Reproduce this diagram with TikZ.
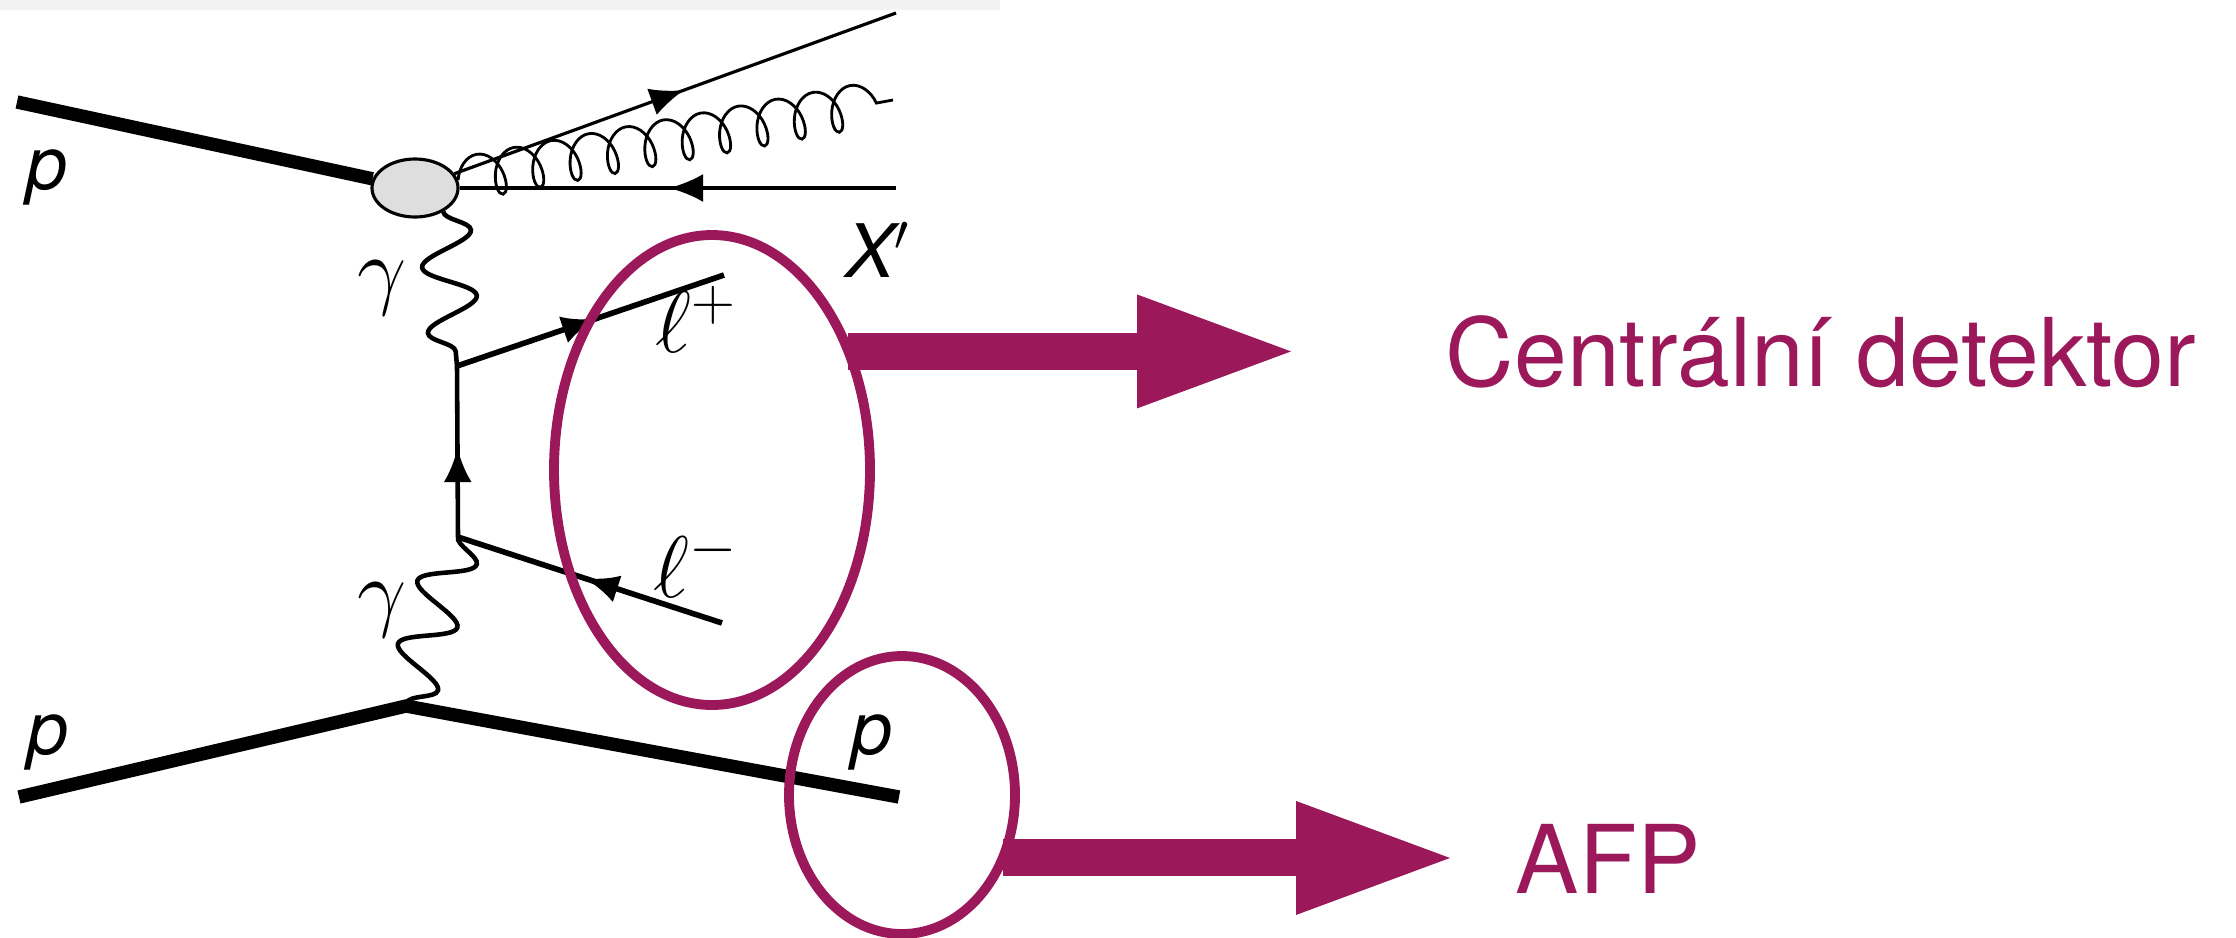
\documentclass[tikz,border=0pt]{standalone}
\usepackage{fontspec}
\setmainfont{TeX Gyre Heros}
\usepackage{xcolor}
\usetikzlibrary{shapes.geometric, arrows.meta, decorations.pathmorphing, decorations.markings}
\definecolor{detpurple}{RGB}{155,25,91}

\begin{document}
\begin{tikzpicture}[x=0.1mm, y=-0.1mm,
  proton/.style={line width=3.8pt},
  fermion/.style={line width=#1, postaction={decorate},
    decoration={markings, mark=at position 0.52 with {\arrow{Latex[length=3.4mm, width=2.8mm]}}}},
  photon/.style={line width=1.3pt, decorate, decoration={snake, amplitude=2.6mm, segment length=6.6mm}},
  gluon/.style={line width=0.8pt, decorate, decoration={coil, amplitude=2.2mm, segment length=3.8mm, aspect=0.6}},
  blob/.style={ellipse, draw, line width=0.9pt, fill=black!13, minimum width=8.6mm, minimum height=5.8mm, inner sep=0pt},
  lab/.style={inner sep=0pt, anchor=base, font=\fontsize{21}{25}\selectfont\itshape},
  ring/.style={ellipse, draw=detpurple, line width=2.8pt, inner sep=0pt, outer sep=0pt},
  bigarrow/.style={detpurple, line width=3.7mm, -{Triangle[line width=0pt, length=15.4mm, width=11.4mm]}},
  bigtext/.style={inner sep=0pt, anchor=base west, text=detpurple, font=\fontsize{27}{32}\selectfont}]
\useasboundingbox (0,0) rectangle (2236,937);
\draw[black!5, line width=1mm] (0,5) -- (1000,5);

% Vertices and outer ends
\node[blob] (blob) at (415,188) {};
\coordinate (v1) at (457,366);
\coordinate (v2) at (458,537);
\coordinate (v3) at (406,706);
\coordinate (pa) at (17,102);
\coordinate (pb) at (19,797);
\coordinate (pc) at (899,797);
\coordinate (qa) at (896,13);
\coordinate (qb) at (896,188);
\coordinate (ga) at (893,100);
\coordinate (lp) at (724,275);
\coordinate (lm) at (722,623);

% Lines
\draw[proton] (pa) -- (blob);
\draw[proton] (pb) -- (v3) -- (pc);
\draw[fermion=0.9pt] (blob) -- (qa);
\draw[fermion=0.9pt] (qb) -- (blob);
\draw[gluon] (blob) -- (ga);
\draw[photon] (blob.-40) -- (v1);
\draw[photon] (v2) -- (v3);
\draw[fermion=1.3pt] (v2) -- (v1);
\draw[fermion=1.6pt] (v1) -- (lp);
\draw[fermion=1.6pt] (lm) -- (v2);

% Labels
\node[lab] (pA) at (47,189) {p};
\node[lab] (pB) at (48,754) {p};
\node[lab] (pC) at (872,754) {p};
\node[lab, font=\fontsize{25}{30}\selectfont] (gA) at (382,298) {$\gamma$};
\node[lab, font=\fontsize{25}{30}\selectfont] (gB) at (382,620) {$\gamma$};
\node[lab] (xq) at (878,277) {X$'$};
\node[lab, font=\fontsize{23}{28}\selectfont] (lpl) at (696,352) {$\ell^{+}$};
\node[lab, font=\fontsize{23}{28}\selectfont] (lml) at (696,597) {$\ell^{-}$};

% Detectors
\node[ring, minimum width=31.6mm, minimum height=47mm] (ellC) at (712,470) {};
\node[ring, minimum width=22.6mm, minimum height=27.8mm] (ellP) at (902,795) {};
\coordinate (tipC) at (1291,352);
\coordinate (tipA) at (1450,859);
\draw[bigarrow] (ellC.41) -- (ellC.41 -| tipC);
\draw[bigarrow] (ellP.-32) -- (ellP.-32 -| tipA);
\node[bigtext] (ctext) at (1445,386) {Centrální detektor};
\node[bigtext] (afp) at (1515,893) {AFP};
\end{tikzpicture}
\end{document}
